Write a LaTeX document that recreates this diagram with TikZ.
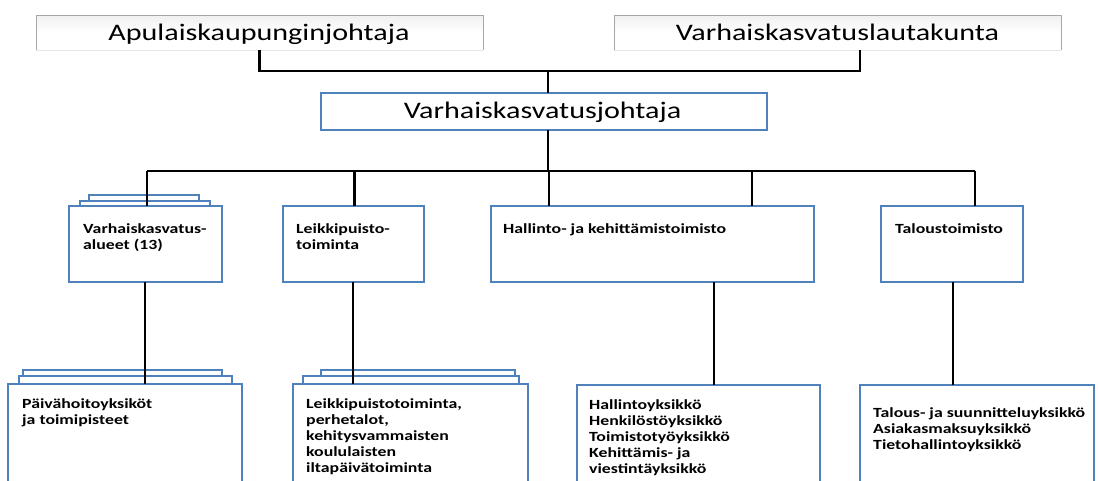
\documentclass[tikz,border=0pt]{standalone}
\usepackage{fontspec}
\setmainfont{Carlito}[FakeStretch=1.27]
\definecolor{boxblue}{HTML}{4F81BD}
\begin{document}
\begin{tikzpicture}[x=1pt,y=-1pt,
  conn/.style={line width=2.2pt, draw=black},
  bluebox/.style={draw=boxblue, line width=1.6pt, fill=white, rectangle, inner sep=0pt, outer sep=0pt, anchor=north west},
  topbox/.style={rectangle, inner sep=0pt, outer sep=0pt, anchor=north west, top color=black!6, bottom color=white, middle color=white},
  toptext/.style={font=\fontsize{23.7}{28}\selectfont, inner sep=0pt, anchor=base},
  lbl/.style={font=\fontsize{14}{16}\selectfont\bfseries, inner sep=0pt, anchor=base west},
]
\useasboundingbox (0,0) rectangle (1098,480);
\clip (0,0) rectangle (1098,480);
\fill[white] (0,0) rectangle (1098,480);

% top boxes
\node[topbox, minimum width=447pt, minimum height=35pt] (ap) at (36,15) {};
\draw[black!35, line width=1pt] (ap.south west) -- (ap.north west) -- (ap.north east) -- (ap.south east);
\draw[black!10, line width=1pt] (ap.south west) -- (ap.south east);
\node[toptext] (tap) at (259,40) {Apulaiskaupunginjohtaja};

\node[topbox, minimum width=447pt, minimum height=35pt] (lt) at (614,15) {};
\draw[black!35, line width=1pt] (lt.south west) -- (lt.north west) -- (lt.north east) -- (lt.south east);
\draw[black!10, line width=1pt] (lt.south west) -- (lt.south east);
\node[toptext] (tlt) at (837.5,40) {Varhaiskasvatuslautakunta};

% director
\node[bluebox, minimum width=446pt, minimum height=37pt] (vj) at (321,93) {};
\node[toptext] (tvj) at (542.5,118) {Varhaiskasvatusjohtaja};

% connectors top
\coordinate (tj) at (548,71);
\draw[conn] (ap.south) |- (tj);
\draw[conn] ([xshift=22.5pt]lt.south) |- (tj);
\draw[conn] (tj) -- (tj |- vj.north);

% level 2 boxes
\node[bluebox, line width=1.2pt, minimum width=110pt, minimum height=30pt] (vab2) at (89,195) {};
\node[bluebox, line width=1.2pt, minimum width=130pt, minimum height=30pt] (vab1) at (80,201) {};
\node[bluebox, minimum width=153pt, minimum height=76pt] (va) at (69,206) {};
\node[bluebox, minimum width=141pt, minimum height=76pt] (lp) at (283,206) {};
\node[bluebox, minimum width=323pt, minimum height=76pt] (hk) at (491,206) {};
\node[bluebox, minimum width=142pt, minimum height=76pt] (ta) at (881,206) {};

\node[lbl] (tva) at (83,233) {\parbox[t]{200pt}{Varhaiskasvatus-\\alueet (13)}};
\node[lbl] (tlp) at (296,233) {\parbox[t]{200pt}{Leikkipuisto-\\toiminta}};
\node[lbl] (thk) at (503,233) {Hallinto- ja kehittämistoimisto};
\node[lbl] (tta) at (895,233) {Taloustoimisto};

% bus
\coordinate (busL) at (147,171);
\coordinate (busR) at (975,171);
\draw[conn] (busL) -- (busR);
\draw[conn] ([xshift=4pt]vj.south) -- ([xshift=4pt]vj.south |- busL);
\draw[conn] (busL) -- (busL |- va.north);
\draw[conn] ([xshift=1pt]lp.north |- busL) -- ([xshift=1pt]lp.north);
\draw[conn] ([xshift=-103.5pt]hk.north |- busL) -- ([xshift=-103.5pt]hk.north);
\draw[conn] ([xshift=99.5pt]hk.north |- busL) -- ([xshift=99.5pt]hk.north);
\draw[conn] (busR) -- (busR |- ta.north);

% level 3 boxes
\node[bluebox, line width=1.2pt, minimum width=199pt, minimum height=30pt] (pvb2) at (23,370) {};
\node[bluebox, line width=1.2pt, minimum width=213pt, minimum height=30pt] (pvb1) at (19,376) {};
\node[bluebox, minimum width=234pt, minimum height=120pt] (pv) at (8,384) {};
\node[bluebox, line width=1.2pt, minimum width=194pt, minimum height=30pt] (lbb2) at (321,370) {};
\node[bluebox, line width=1.2pt, minimum width=216pt, minimum height=30pt] (lbb1) at (303,376) {};
\node[bluebox, minimum width=235pt, minimum height=120pt] (lb) at (293,384) {};
\node[bluebox, minimum width=243pt, minimum height=120pt] (hb) at (577,385) {};
\node[bluebox, minimum width=234pt, minimum height=120pt] (tb) at (860,385) {};

\node[lbl] (tpv) at (22,408) {\parbox[t]{220pt}{Päivähoitoyksiköt\\ja toimipisteet}};
\node[lbl] (tlb) at (306,408) {\parbox[t]{220pt}{Leikkipuistotoiminta,\\perhetalot,\\kehitysvammaisten\\koululaisten\\iltapäivätoiminta}};
\node[lbl] (thb) at (589,409) {\parbox[t]{220pt}{Hallintoyksikkö\\Henkilöstöyksikkö\\Toimistotyöyksikkö\\Kehittämis- ja\\viestintäyksikkö}};
\node[lbl] (ttb) at (873,417) {\parbox[t]{230pt}{Talous- ja suunnitteluyksikkö\\Asiakasmaksuyksikkö\\Tietohallintoyksikkö}};

% level 2 -> level 3
\draw[conn] ([xshift=-0.5pt]va.south) -- ([xshift=-0.5pt]va.south |- pv.north);
\draw[conn] ([xshift=-0.5pt]lp.south) -- ([xshift=-0.5pt]lp.south |- lb.north);
\draw[conn] ([xshift=61.5pt]hk.south) -- ([xshift=61.5pt]hk.south |- hb.north);
\draw[conn] ([xshift=1pt]ta.south) -- ([xshift=1pt]ta.south |- tb.north);
\end{tikzpicture}
\end{document}
